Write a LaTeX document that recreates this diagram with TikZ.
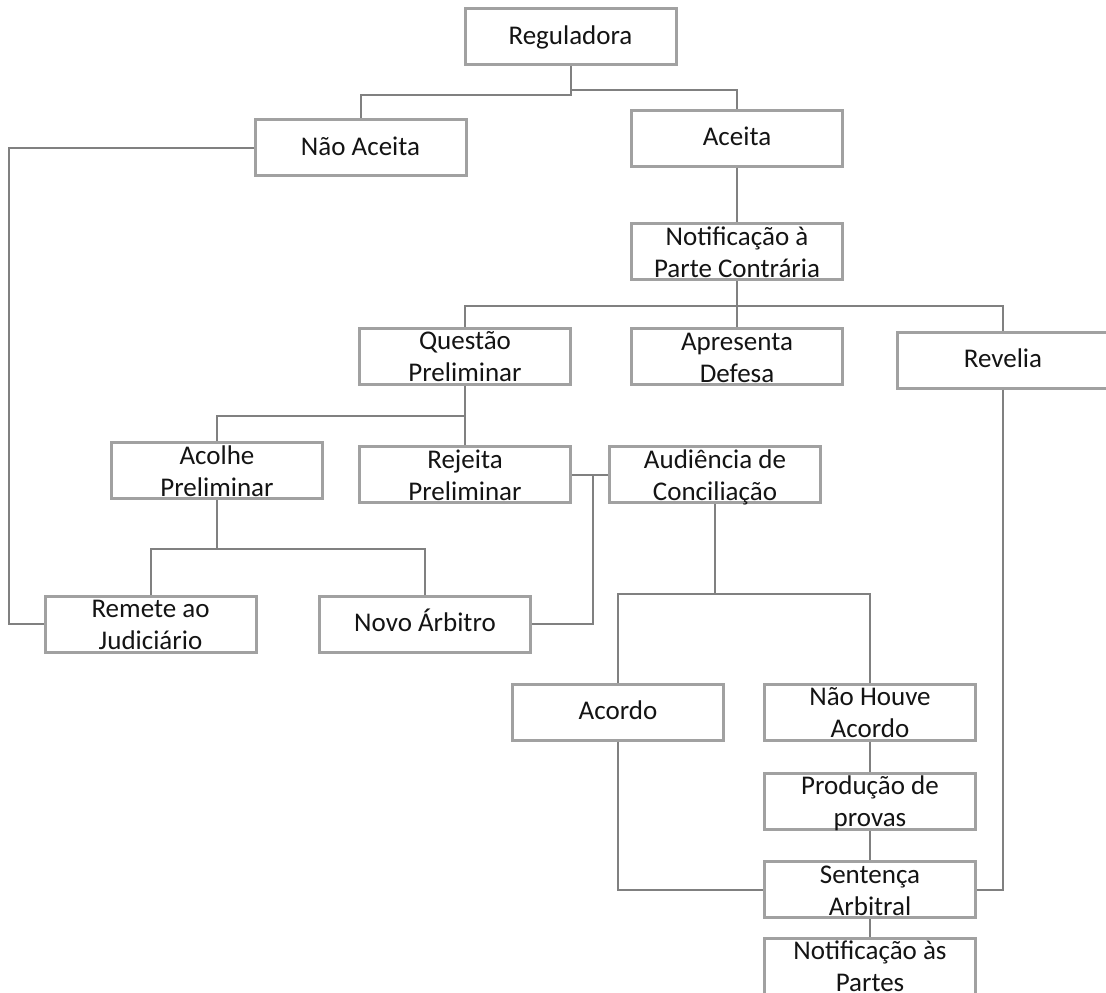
\documentclass[tikz,border=0pt]{standalone}
\usepackage{fontspec}
\setmainfont{Carlito}
\begin{document}
\begin{tikzpicture}[x=1pt,y=-1pt,
  box/.style={draw=black!37,line width=3pt,minimum width=211pt,minimum height=56pt,inner sep=0pt,fill=white},
  txt/.style={anchor=base,inner sep=0pt,font=\fontsize{27}{32}\selectfont,text=black!92},
  conn/.style={draw=black!50,line width=2pt}]
\useasboundingbox (0,0) rectangle (1106,993);
\fill[white] (0,0) rectangle (1106,993);
\clip (0,0) rectangle (1106,993);
\newcommand{\oneline}[4]{%
  \node[box] (#1) at (#2,#3) {};
  \node[txt] (#1-t) at ([yshift=-37pt]#1.north) {#4};}
\newcommand{\twoline}[5]{%
  \node[box] (#1) at (#2,#3) {};
  \node[txt] (#1-a) at ([yshift=-23pt]#1.north) {#4};
  \node[txt] (#1-b) at ([yshift=-55pt]#1.north) {#5};}
% boxes
\oneline{reg}{570.5}{36.5}{Reguladora}
\oneline{nao}{360.5}{147.5}{Não Aceita}
\oneline{aceita}{737}{138}{Aceita}
\twoline{notif}{737}{251.5}{Notificação à}{Parte Contrária}
\twoline{questao}{465}{356}{Questão}{Preliminar}
\twoline{apresenta}{737}{356.5}{Apresenta}{Defesa}
\oneline{revelia}{1003}{360}{Revelia}
\twoline{acolhe}{217}{470.5}{Acolhe}{Preliminar}
\twoline{rejeita}{465}{474.5}{Rejeita}{Preliminar}
\twoline{aud}{715}{474.5}{Audiência de}{Conciliação}
\twoline{remete}{150.5}{624}{Remete ao}{Judiciário}
\oneline{novo}{425}{624}{Novo Árbitro}
\oneline{acordo}{618}{712}{Acordo}
\twoline{naohouve}{870}{712}{Não Houve}{Acordo}
\twoline{producao}{870}{801}{Produção de}{provas}
\twoline{sent}{870}{889.5}{Sentença}{Arbitral}
\twoline{notifp}{870}{966}{Notificação às}{Partes}
% connectors
\draw[conn] (reg.south) -- ++(0,29) -| (nao.north);
\draw[conn] (reg.south) -- ++(0,24) -| (aceita.north);
\draw[conn] (nao.west) -- ++(-244.5,0) |- (remete.west);
\draw[conn] (aceita.south) -- (notif.north);
\draw[conn] (notif.south) -- (apresenta.north);
\draw[conn] (notif.south) -- ++(0,25) -| (questao.north);
\draw[conn] (notif.south) -- ++(0,25) -| (revelia.north);
\draw[conn] (questao.south) -- (rejeita.north);
\draw[conn] (questao.south) -- ++(0,30) -| (acolhe.north);
\draw[conn] (acolhe.south) -- ++(0,49) -| (remete.north);
\draw[conn] (acolhe.south) -- ++(0,49) -| (novo.north);
\draw[conn] (rejeita.east) -- ++(20.5,0) |- (novo.east);
\draw[conn] (aud.west) -- ++(-18.5,0);
\draw[conn] (aud.south) -- ++(0,90) -| (acordo.north);
\draw[conn] (aud.south) -- ++(0,90) -| (naohouve.north);
\draw[conn] (acordo.south) |- (sent.west);
\draw[conn] (revelia.south) |- (sent.east);
\draw[conn] (naohouve.south) -- (producao.north);
\draw[conn] (producao.south) -- (sent.north);
\draw[conn] (sent.south) -- (notifp.north);
\end{tikzpicture}
\end{document}
